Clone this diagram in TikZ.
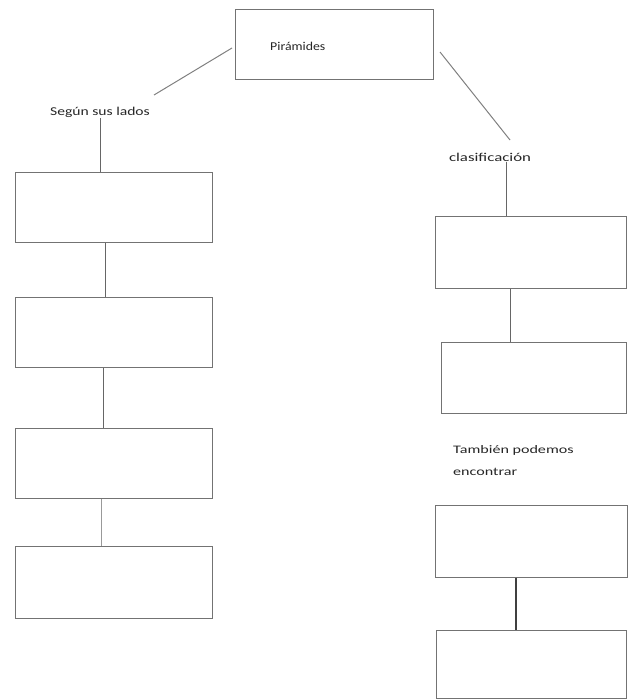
\documentclass[tikz,border=0pt]{standalone}
\usepackage{fontspec}
\usepackage{graphicx}
\setmainfont{Carlito}
% wide, slightly stretched label text
\newcommand{\widetext}[2]{\scalebox{#1}[1]{#2}}
\begin{document}
\begin{tikzpicture}[x=1pt,y=-1pt,
  box/.style={draw=black!55, line width=1pt, rectangle, inner sep=0pt},
  lbl/.style={font=\fontsize{12}{14}\selectfont, text=black!85, inner sep=1pt},
  link/.style={draw=black!60, line width=1pt}]
\useasboundingbox (0,0) rectangle (628,700);
% title box
\node[box, minimum width=198pt, minimum height=70pt] (top) at (334,45) {};
\node[lbl, anchor=west] (title) at (269,46) {\widetext{1.15}{Pirámides}};
% left branch
\node[lbl] (lados) at (100,112) {\widetext{1.3}{Según sus lados}};
\node[box, minimum width=197pt, minimum height=70pt] (l1) at (113.5,208) {};
\node[box, minimum width=197pt, minimum height=70pt] (l2) at (113.5,332) {};
\node[box, minimum width=197pt, minimum height=70pt] (l3) at (113.5,463) {};
\node[box, minimum width=197pt, minimum height=72pt] (l4) at (113.5,582) {};
% right branch
\node[lbl] (clasif) at (490,157) {\widetext{1.4}{clasificación}};
\node[box, minimum width=191pt, minimum height=71pt] (r1) at (530.5,252.5) {};
\node[box, minimum width=185pt, minimum height=71pt] (r2) at (533.5,377.5) {};
\node[lbl, anchor=north west, align=left, font=\fontsize{11.5}{22}\selectfont] (tambien) at (452,444) {\widetext{1.4}{También podemos}\\\widetext{1.4}{encontrar}};
\node[box, minimum width=192pt, minimum height=72pt] (r3) at (531,541) {};
\node[box, minimum width=190pt, minimum height=68pt] (r4) at (531,664) {};
% connectors
\coordinate (tl) at (232,48);
\coordinate (ll) at (154,95);
\coordinate (tr) at (440,52);
\coordinate (cr) at (510,140);
\draw[link, draw=black!50] (tl) -- (ll);
\draw[link, draw=black!50] (tr) -- (cr);
\draw[link] (lados.south -| 100,0) -- (l1.north -| 100,0);
\draw[link] (l1.south -| 105,0) -- (l2.north -| 105,0);
\draw[link] (l2.south -| 103,0) -- (l3.north -| 103,0);
\draw[link, draw=black!40] (l3.south -| 101,0) -- (l4.north -| 101,0);
\draw[link] (clasif.south -| 506,0) -- (r1.north -| 506,0);
\draw[link] (r1.south -| 510,0) -- (r2.north -| 510,0);
\draw[link, draw=black!75, line width=1.3pt] (r3.south -| 516,0) -- (r4.north -| 516,0);
\end{tikzpicture}
\end{document}
